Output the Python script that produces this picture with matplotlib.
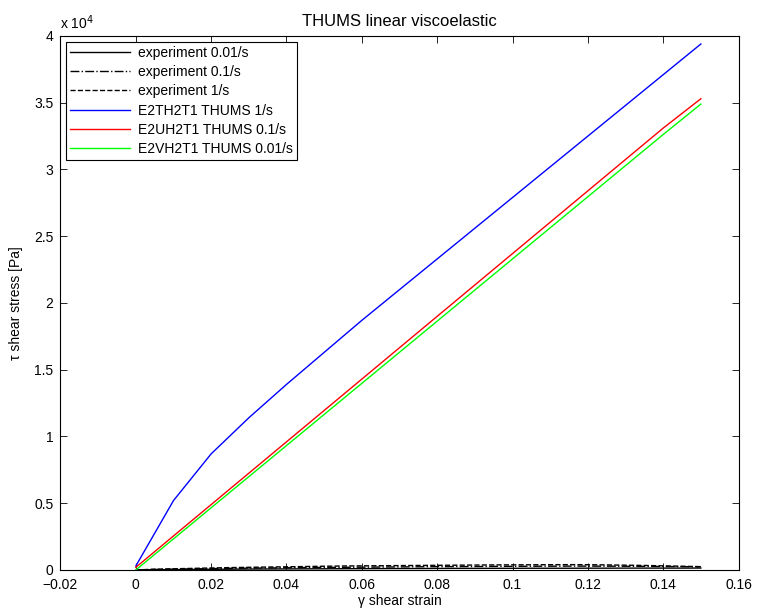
import numpy as np
import matplotlib
matplotlib.use('Agg')
import matplotlib.pyplot as plt

plt.rcParams['font.family'] = ['Liberation Sans', 'DejaVu Sans']
plt.rcParams['font.size'] = 10

# strain values (shear strain gamma)
strain = [0.0, 0.01, 0.02, 0.03, 0.04, 0.05, 0.06, 0.07, 0.08, 0.09,
          0.10, 0.11, 0.12, 0.13, 0.14, 0.15]

# THUMS model results [Pa]
thums_1 = [300, 5200, 8700, 11400, 13900, 16300, 18700, 21000, 23300, 25600,
           27900, 30200, 32500, 34800, 37100, 39400]
thums_01 = [200, 2550, 4900, 7250, 9600, 11950, 14300, 16650, 19000, 21350,
            23700, 26050, 28400, 30750, 33100, 35300]
thums_001 = [0, 2330, 4660, 6990, 9320, 11650, 13980, 16310, 18640, 20970,
             23300, 25630, 27960, 30290, 32620, 34900]

# experiments [Pa]
exp_strain = [0.0, 0.005, 0.01, 0.015, 0.02, 0.025, 0.03, 0.035, 0.04, 0.045,
              0.05, 0.055, 0.06, 0.065, 0.07, 0.075, 0.08, 0.085, 0.09, 0.095,
              0.10, 0.105, 0.11, 0.115, 0.12, 0.125, 0.13, 0.135, 0.14, 0.145,
              0.15]
exp_001 = [0, 20, 30, 40, 50, 60, 70, 75, 80, 85, 90, 95, 100, 105, 110, 110,
           115, 120, 120, 125, 125, 130, 130, 130, 135, 135, 140, 140, 140,
           140, 145]
exp_01 = [0, 40, 60, 80, 100, 120, 140, 150, 165, 180, 190, 200, 210, 220,
          230, 240, 250, 255, 260, 270, 275, 280, 285, 290, 290, 285, 280, 270,
          260, 250, 240]
exp_1 = [0, 60, 90, 120, 150, 180, 200, 220, 240, 260, 280, 300, 310, 320,
         330, 340, 350, 360, 370, 380, 385, 390, 395, 400, 395, 380, 360, 340,
         310, 280, 250]

fig = plt.figure(figsize=(7.57, 6.10), dpi=100)
ax = fig.add_axes([0.0799, 0.0656, 0.8957, 0.8754])

ax.plot(exp_strain, exp_001, color='k', linestyle='-', linewidth=1.0, label='experiment 0.01/s')
ax.plot(exp_strain, exp_01, color='k', linestyle='-.', linewidth=1.0, label='experiment 0.1/s')
ax.plot(exp_strain, exp_1, color='k', linestyle='--', linewidth=1.0, label='experiment 1/s')
ax.plot(strain, thums_1, color='#0000ff', linewidth=1.0, label='E2TH2T1 THUMS 1/s')
ax.plot(strain, thums_01, color='#ff0000', linewidth=1.0, label='E2UH2T1 THUMS 0.1/s')
ax.plot(strain, thums_001, color='#00ff00', linewidth=1.0, label='E2VH2T1 THUMS 0.01/s')

ax.set_xlim(-0.02, 0.16)
ax.set_ylim(0, 40000)
ax.set_xticks(np.arange(-0.02, 0.161, 0.02))
ax.set_xticklabels(['\u22120.02', '0', '0.02', '0.04', '0.06', '0.08', '0.1',
                    '0.12', '0.14', '0.16'])
yt = np.arange(0, 40001, 5000)
ax.set_yticks(yt)
ax.set_yticklabels(['0', '0.5', '1', '1.5', '2', '2.5', '3', '3.5', '4'])
ax.tick_params(direction='in', top=True, right=True, length=5, width=0.6)
ax.tick_params(axis='x', pad=6)
ax.tick_params(axis='y', pad=5)
for s in ax.spines.values():
    s.set_linewidth(0.8)
ax.text(0.0, 1.008, r'x 10$^4$', transform=ax.transAxes, ha='left', va='bottom')

ax.set_xlabel('\u03b3 shear strain', labelpad=1)
ax.set_ylabel('\u03c4 shear stress [Pa]', labelpad=8)
ax.set_title('THUMS linear viscoelastic', pad=7)

leg = ax.legend(loc='upper left', fancybox=False, edgecolor='k', framealpha=1,
                handlelength=4.3, handletextpad=0.6, borderaxespad=0.4,
                labelspacing=0.38, borderpad=0.3)
leg.get_frame().set_linewidth(0.8)

fig.savefig('out.png', dpi=100)
